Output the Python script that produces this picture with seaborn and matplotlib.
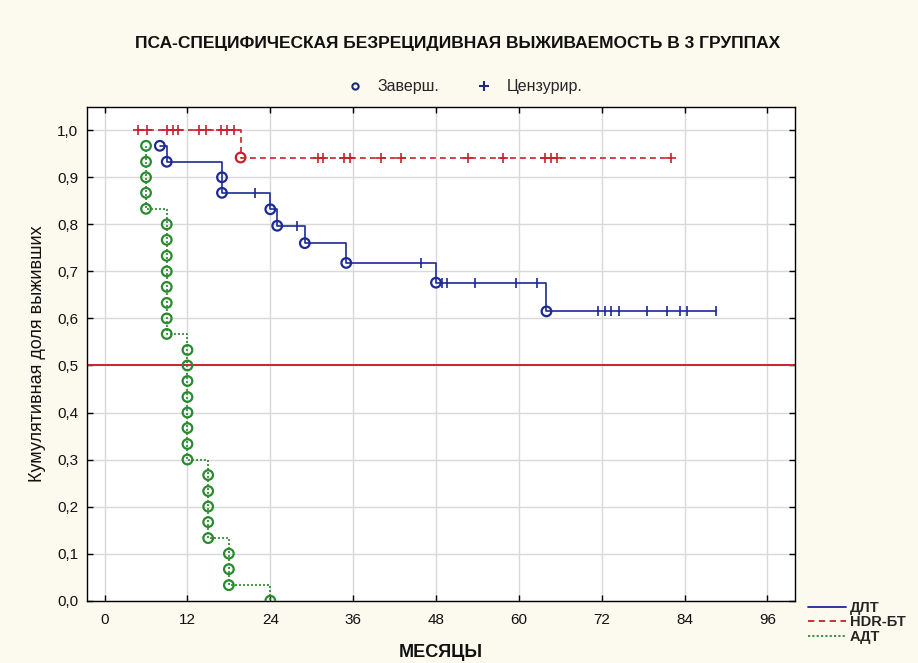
import matplotlib
matplotlib.use("Agg")
import matplotlib.pyplot as plt
import seaborn as sns
import pandas as pd
from matplotlib.lines import Line2D

# ---------------- data ----------------
groups = ["ДЛТ", "HDR-БТ", "АДТ"]

dlt_event_t = [8, 9, 17, 17, 24, 25, 29, 35, 48, 64]
dlt_event_s = [0.967, 0.933, 0.900, 0.867, 0.832, 0.797, 0.760, 0.718, 0.676, 0.615]
dlt_cens_t = [21.8, 27.8, 45.8, 48.9, 49.6, 53.6, 59.6, 62.7,
              71.5, 72.5, 73.4, 74.5, 78.6, 81.5, 83.4, 84.4, 88.6]
dlt_cens_s = [0.867, 0.797, 0.718, 0.676, 0.676, 0.676, 0.676, 0.676,
              0.615, 0.615, 0.615, 0.615, 0.615, 0.615, 0.615, 0.615, 0.615]

hdr_event_t = [19.7]
hdr_event_s = [0.942]
hdr_cens_t = [4.9, 6.1, 9.0, 9.9, 10.7, 13.6, 14.7, 16.8, 17.8, 18.7,
              30.9, 31.6, 34.7, 35.6, 40.0, 42.9, 52.7, 57.7, 63.8, 64.7, 65.5, 82.1]
hdr_cens_s = [1.0, 1.0, 1.0, 1.0, 1.0, 1.0, 1.0, 1.0, 1.0, 1.0,
              0.942, 0.942, 0.942, 0.942, 0.942, 0.942, 0.942, 0.942, 0.942, 0.942, 0.942, 0.942]

adt_event_t = [6, 6, 6, 6, 6,
               9, 9, 9, 9, 9, 9, 9, 9,
               12, 12, 12, 12, 12, 12, 12, 12,
               15, 15, 15, 15, 15,
               18, 18, 18,
               24]
adt_event_s = [0.967, 0.933, 0.900, 0.867, 0.833,
               0.800, 0.767, 0.733, 0.700, 0.667, 0.633, 0.600, 0.567,
               0.533, 0.500, 0.467, 0.433, 0.400, 0.367, 0.333, 0.300,
               0.267, 0.233, 0.200, 0.167, 0.133,
               0.100, 0.067, 0.033,
               0.000]
adt_cens_t = []
adt_cens_s = []

x_ticks = [0, 12, 24, 36, 48, 60, 72, 84, 96]
y_ticks = [0.0, 0.1, 0.2, 0.3, 0.4, 0.5, 0.6, 0.7, 0.8, 0.9, 1.0]
y_ticklabels = ["0,0", "0,1", "0,2", "0,3", "0,4", "0,5", "0,6", "0,7", "0,8", "0,9", "1,0"]
ref_level = 0.5

title = "ПСА-СПЕЦИФИЧЕСКАЯ БЕЗРЕЦИДИВНАЯ ВЫЖИВАЕМОСТЬ В 3 ГРУППАХ"
xlabel = "МЕСЯЦЫ"
ylabel = "Кумулятивная доля выживших"
marker_legend = ["Заверш.", "Цензурир."]

# ---------------- styling ----------------
colors = {"ДЛТ": "#1c2a96", "HDR-БТ": "#c8202c", "АДТ": "#2a8a2e"}
dashes = {"ДЛТ": "", "HDR-БТ": (3.5, 2.5), "АДТ": (1.2, 1.2)}
cens_marker = {"ДЛТ": "|", "HDR-БТ": "+", "АДТ": "+"}
bg = "#fcf9ee"

sns.set_theme(style="white")
plt.rcParams["font.family"] = ["Liberation Sans Narrow", "Liberation Sans", "DejaVu Sans"]

events = {"ДЛТ": (dlt_event_t, dlt_event_s),
          "HDR-БТ": (hdr_event_t, hdr_event_s),
          "АДТ": (adt_event_t, adt_event_s)}
cens = {"ДЛТ": (dlt_cens_t, dlt_cens_s),
        "HDR-БТ": (hdr_cens_t, hdr_cens_s),
        "АДТ": (adt_cens_t, adt_cens_s)}

rows = []
for g in groups:
    for t, s in zip(*events[g]):
        rows.append((g, t, s, "event"))
    for t, s in zip(*cens[g]):
        rows.append((g, t, s, "cens"))
df = pd.DataFrame(rows, columns=["group", "t", "s", "kind"])
path = df.sort_values(["group", "t", "s"], ascending=[True, True, False])

fig = plt.figure(figsize=(9.18, 6.63), dpi=100, facecolor=bg)
ax = fig.add_axes([0.0944, 0.094, 0.866 - 0.0944, 0.839 - 0.094])
ax.set_facecolor("white")

ax.axhline(ref_level, color="#d41e2e", lw=1.4, zorder=1.5)

sns.lineplot(data=path, x="t", y="s", hue="group", style="group",
             palette=colors, dashes=dashes, estimator=None, sort=False,
             drawstyle="steps-post", lw=1.2, legend=False, ax=ax, zorder=2)

for g in groups:
    ev = df[(df.group == g) & (df.kind == "event")]
    sns.scatterplot(data=ev, x="t", y="s", marker="o", s=48, color=colors[g],
                    facecolor="none", edgecolor=colors[g], linewidth=1.6,
                    ax=ax, zorder=3, legend=False)
    ce = df[(df.group == g) & (df.kind == "cens")]
    if len(ce):
        sns.scatterplot(data=ce, x="t", y="s", marker=cens_marker[g],
                        s=60 if g == "HDR-БТ" else 45, color=colors[g],
                        linewidth=1.2, ax=ax, zorder=3, legend=False)

ax.set_xlim(-2.6, 100.0)
ax.set_ylim(0.0, 1.05)
ax.set_xticks(x_ticks)
ax.set_xticklabels([str(v) for v in x_ticks])
ax.set_yticks(y_ticks)
ax.set_yticklabels(y_ticklabels)
ax.grid(True, color="#d9d9d9", lw=1.0)
ax.set_axisbelow(True)
for sp in ax.spines.values():
    sp.set_color("black")
    sp.set_linewidth(1.0)
ax.tick_params(direction="in", length=4, width=1, color="black",
               top=True, right=True, bottom=True, left=True,
               labelsize=11, labelcolor="#111111", pad=9)
ax.tick_params(axis="y", pad=6)
ax.set_xlabel(xlabel, fontsize=13, fontweight="bold", labelpad=12, color="#111111")
ax.set_ylabel(ylabel, fontsize=13, labelpad=8, color="#111111")

fig.text(0.499, 0.935, title, ha="center", va="center", fontsize=12.5,
         fontweight="bold", color="#111111")

mh = [Line2D([], [], ls="none", marker="o", ms=4.5, mfc="none", mec="#1c2a78", mew=1.5),
      Line2D([], [], ls="none", marker="+", ms=7, mec="#1c2a78", mew=1.5)]
fig.legend(mh, marker_legend, loc="center", bbox_to_anchor=(0.502, 0.869), ncol=2,
           frameon=False, handletextpad=0.4, columnspacing=1.8,
           prop={"family": ["Liberation Sans", "DejaVu Sans"], "size": 11.5})

lh = [Line2D([], [], color=colors["ДЛТ"], lw=1.3),
      Line2D([], [], color=colors["HDR-БТ"], lw=1.3, dashes=(3.5, 2.5)),
      Line2D([], [], color=colors["АДТ"], lw=1.3, dashes=(1.2, 1.2))]
fig.legend(lh, groups, loc="upper left", bbox_to_anchor=(0.880, 0.094),
           frameon=False, handlelength=2.6, handletextpad=0.3, labelspacing=0.05,
           borderpad=0, borderaxespad=0,
           prop={"family": ["Liberation Sans Narrow", "Liberation Sans", "DejaVu Sans"],
                 "size": 10.5, "weight": "bold"})

fig.savefig("out.png", dpi=100, facecolor=bg)
